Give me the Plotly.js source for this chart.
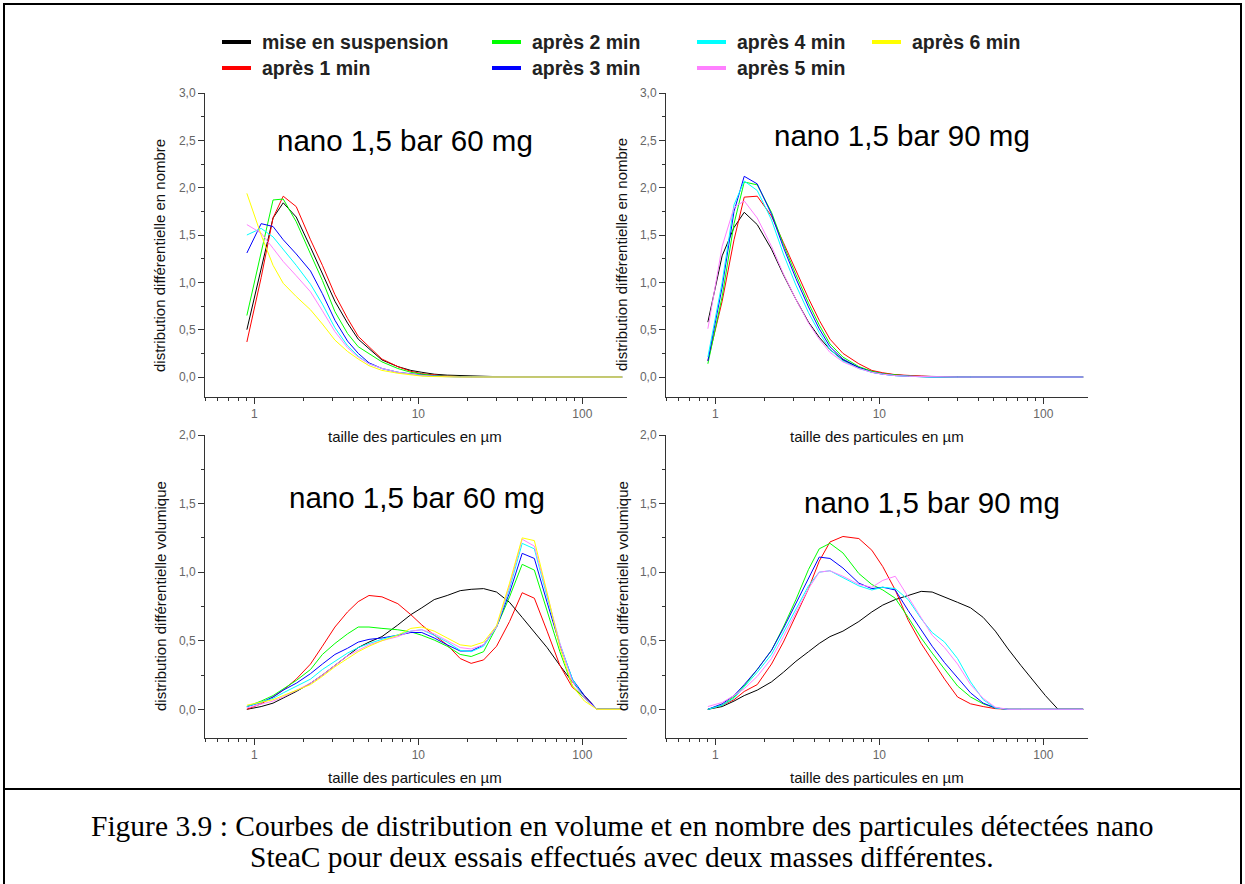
<!DOCTYPE html>
<html><head><meta charset="utf-8">
<script src="https://cdn.plot.ly/plotly-3.0.1.min.js"></script>
<style>html,body{margin:0;padding:0;background:#fff;} #chart{width:1245px;height:884px;}</style>
</head><body><div id="chart"></div>
<script>
// Particle size classes (µm)
const sizes = [0.9,1.1,1.3,1.5,1.8,2.2,2.6,3.1,3.7,4.3,5.0,6.0,7.5,9.0,10.5,12.5,15,18,21,25,30,36,43,51,61,73,87,103,123,147,175];

const seriesNames = ['mise en suspension','après 1 min','après 2 min','après 3 min','après 4 min','après 5 min','après 6 min'];
const seriesColors = ['#000000','#ff0000','#00ff00','#0000ff','#00ffff','#ff80ff','#ffff00'];

// Number distribution, 60 mg
const num60_susp = [0.50,1.15,1.68,1.84,1.69,1.37,1.10,0.80,0.57,0.40,0.30,0.18,0.11,0.07,0.05,0.03,0.02,0.015,0.01,0.005,0,0,0,0,0,0,0,0,0,0,0];
const num60_1 = [0.37,1.05,1.68,1.91,1.80,1.45,1.18,0.87,0.62,0.43,0.32,0.19,0.11,0.06,0.035,0.02,0.01,0.005,0,0,0,0,0,0,0,0,0,0,0,0,0];
const num60_2 = [0.65,1.30,1.87,1.88,1.64,1.30,1.02,0.69,0.46,0.32,0.25,0.16,0.09,0.05,0.03,0.015,0.008,0.004,0,0,0,0,0,0,0,0,0,0,0,0,0];
const num60_3 = [1.31,1.62,1.59,1.45,1.30,1.12,0.88,0.60,0.38,0.25,0.15,0.09,0.05,0.03,0.02,0.01,0.005,0,0,0,0,0,0,0,0,0,0,0,0,0,0];
const num60_4 = [1.50,1.57,1.48,1.35,1.18,0.98,0.77,0.52,0.33,0.22,0.14,0.09,0.05,0.03,0.015,0.008,0,0,0,0,0,0,0,0,0,0,0,0,0,0,0];
const num60_5 = [1.61,1.52,1.36,1.22,1.07,0.90,0.70,0.48,0.31,0.21,0.14,0.09,0.05,0.03,0.015,0.008,0,0,0,0,0,0,0,0,0,0,0,0,0,0,0];
const num60_6 = [1.94,1.50,1.18,0.99,0.85,0.71,0.56,0.39,0.27,0.19,0.12,0.07,0.04,0.02,0.01,0.005,0,0,0,0,0,0,0,0,0,0,0,0,0,0,0];

// Number distribution, 90 mg
const num90_susp = [0.58,1.28,1.58,1.74,1.61,1.35,1.08,0.82,0.58,0.42,0.29,0.18,0.10,0.06,0.035,0.02,0.012,0.008,0.005,0.003,0,0,0,0,0,0,0,0,0,0,0];
const num90_1 = [0.17,0.80,1.45,1.90,1.91,1.70,1.42,1.12,0.83,0.60,0.40,0.25,0.14,0.07,0.045,0.025,0.015,0.01,0.005,0,0,0,0,0,0,0,0,0,0,0,0];
const num90_2 = [0.14,0.85,1.62,2.06,2.03,1.74,1.40,1.08,0.78,0.55,0.35,0.21,0.11,0.06,0.035,0.02,0.01,0.005,0,0,0,0,0,0,0,0,0,0,0,0,0];
const num90_3 = [0.17,0.95,1.75,2.12,2.04,1.72,1.37,1.04,0.74,0.51,0.32,0.19,0.10,0.05,0.03,0.015,0.008,0,0,0,0,0,0,0,0,0,0,0,0,0,0];
const num90_4 = [0.21,1.00,1.82,2.07,1.97,1.66,1.30,0.97,0.68,0.47,0.29,0.17,0.09,0.05,0.03,0.015,0.008,0,0,0,0,0,0,0,0,0,0,0,0,0,0];
const num90_5 = [0.51,1.38,1.79,1.86,1.68,1.38,1.09,0.82,0.57,0.40,0.26,0.16,0.09,0.05,0.03,0.015,0.008,0.004,0.002,0,0,0,0,0,0,0,0,0,0,0,0];

// Volume distribution, 60 mg
const vol60_susp = [0,0.02,0.045,0.08,0.13,0.19,0.25,0.32,0.39,0.45,0.49,0.53,0.615,0.69,0.74,0.80,0.83,0.865,0.875,0.88,0.855,0.78,0.67,0.56,0.45,0.32,0.20,0.10,0,0,0];
const vol60_1 = [0,0.04,0.09,0.14,0.22,0.33,0.46,0.60,0.71,0.785,0.83,0.82,0.77,0.69,0.615,0.54,0.47,0.37,0.335,0.36,0.46,0.64,0.85,0.81,0.57,0.32,0.16,0.09,0,0,0];
const vol60_2 = [0.02,0.06,0.10,0.15,0.21,0.29,0.40,0.48,0.55,0.60,0.60,0.59,0.58,0.565,0.54,0.505,0.46,0.40,0.385,0.42,0.60,0.82,1.057,1.015,0.72,0.42,0.17,0.08,0,0,0];
const vol60_3 = [0.02,0.05,0.09,0.14,0.19,0.26,0.33,0.40,0.445,0.49,0.51,0.52,0.54,0.56,0.56,0.52,0.47,0.425,0.425,0.47,0.60,0.85,1.137,1.10,0.78,0.47,0.22,0.10,0,0,0];
const vol60_4 = [0.02,0.05,0.08,0.12,0.17,0.22,0.29,0.35,0.41,0.45,0.48,0.51,0.54,0.57,0.58,0.54,0.49,0.43,0.42,0.46,0.60,0.88,1.21,1.17,0.82,0.48,0.22,0.08,0,0,0];
const vol60_5 = [0.01,0.04,0.06,0.09,0.14,0.19,0.25,0.32,0.39,0.43,0.47,0.50,0.53,0.57,0.58,0.55,0.50,0.45,0.44,0.47,0.60,0.90,1.24,1.19,0.84,0.48,0.20,0.08,0,0,0];
const vol60_6 = [0.03,0.05,0.07,0.10,0.14,0.18,0.24,0.31,0.37,0.42,0.46,0.50,0.54,0.59,0.60,0.57,0.52,0.47,0.46,0.49,0.61,0.92,1.25,1.23,0.85,0.45,0.17,0.06,0,0,0];

// Volume distribution, 90 mg
const vol90_susp = [0,0.02,0.06,0.10,0.14,0.20,0.27,0.35,0.42,0.48,0.53,0.57,0.64,0.71,0.76,0.80,0.83,0.86,0.855,0.82,0.78,0.74,0.67,0.57,0.44,0.32,0.21,0.10,0,0,0];
const vol90_1 = [0,0.03,0.07,0.13,0.18,0.33,0.49,0.69,0.88,1.08,1.22,1.26,1.245,1.16,1.04,0.87,0.65,0.48,0.36,0.22,0.09,0.04,0.02,0.005,0,0,0,0,0,0,0];
const vol90_2 = [0,0.03,0.09,0.17,0.29,0.43,0.60,0.80,1.02,1.17,1.21,1.14,0.99,0.91,0.87,0.81,0.67,0.52,0.41,0.29,0.17,0.09,0.04,0.01,0,0,0,0,0,0,0];
const vol90_3 = [0,0.04,0.10,0.18,0.29,0.43,0.59,0.77,0.96,1.11,1.10,1.03,0.92,0.88,0.89,0.87,0.72,0.58,0.46,0.34,0.23,0.12,0.045,0.01,0,0,0,0,0,0,0];
const vol90_4 = [0,0.03,0.08,0.16,0.27,0.40,0.56,0.73,0.90,1.00,1.01,0.96,0.90,0.87,0.89,0.88,0.80,0.66,0.56,0.49,0.37,0.20,0.07,0.01,0,0,0,0,0,0,0];
const vol90_5 = [0.02,0.05,0.10,0.15,0.24,0.37,0.53,0.71,0.88,1.00,1.01,0.97,0.91,0.89,0.94,0.97,0.82,0.67,0.54,0.45,0.33,0.18,0.08,0.015,0,0,0,0,0,0,0];

const panelTitles = ['nano 1,5 bar 60 mg','nano 1,5 bar 90 mg','nano 1,5 bar 60 mg','nano 1,5 bar 90 mg'];
const xTitle = 'taille des particules en µm';
const yTitleNum = 'distribution différentielle en nombre';
const yTitleVol = 'distribution différentielle volumique';
const caption1 = 'Figure 3.9 : Courbes de distribution en volume et en nombre des particules détectées nano';
const caption2 = 'SteaC pour deux essais effectués avec deux masses différentes.';

const W = 1245, H = 884;
const px = v => v / W;
const py = v => 1 - v / H;

const panels = [
  {xa:'x',  ya:'y',  series:[num60_susp,num60_1,num60_2,num60_3,num60_4,num60_5,num60_6]},
  {xa:'x2', ya:'y2', series:[num90_susp,num90_1,num90_2,num90_3,num90_4,num90_5]},
  {xa:'x3', ya:'y3', series:[vol60_susp,vol60_1,vol60_2,vol60_3,vol60_4,vol60_5,vol60_6]},
  {xa:'x4', ya:'y4', series:[vol90_susp,vol90_1,vol90_2,vol90_3,vol90_4,vol90_5]}
];

const traces = [];
panels.forEach(p => {
  p.series.forEach((ys, i) => {
    traces.push({
      x: sizes, y: ys, xaxis: p.xa, yaxis: p.ya, type: 'scatter', mode: 'lines',
      name: seriesNames[i], line: {color: seriesColors[i], width: 1}, showlegend: false, hoverinfo: 'skip'
    });
  });
});

const FONT = 'Liberation Sans, Arial, sans-serif';
const SERIF = 'Liberation Serif, Times New Roman, serif';
const axisLine = '#333';
function xAxis(l, r, anchor) {
  return {
    type: 'log', domain: [px(l), px(r)], anchor: anchor, range: [Math.log10(0.5), 2.2726],
    showline: true, linecolor: axisLine, linewidth: 1, ticks: 'outside', ticklen: 6, tickwidth: 1, tickcolor: axisLine,
    dtick: 1, showgrid: false, zeroline: false,
    tickfont: {family: FONT, size: 12, color: '#666'},
    minor: {ticks: 'outside', ticklen: 3, tickwidth: 1, tickcolor: axisLine, showgrid: false}
  };
}
function yAxis(top, bottom, anchor, range) {
  return {
    domain: [py(bottom), py(top)], anchor: anchor, range: range,
    showline: true, linecolor: axisLine, linewidth: 1, ticks: 'outside', ticklen: 6, tickwidth: 1, tickcolor: axisLine,
    dtick: 0.5, tick0: 0, tickformat: '.1f', showgrid: false, zeroline: false,
    tickfont: {family: FONT, size: 12, color: '#666'},
    minor: {ticks: 'outside', ticklen: 3, tickwidth: 1, tickcolor: axisLine, dtick: 0.25, showgrid: false}
  };
}

const annotations = [];
function ann(text, x, y, size, extra) {
  annotations.push(Object.assign({
    text: text, x: px(x), y: py(y), xref: 'paper', yref: 'paper', showarrow: false,
    xanchor: 'center', yanchor: 'middle', font: {family: FONT, size: size, color: '#000'}
  }, extra || {}));
}
// panel titles
ann(panelTitles[0], 405, 140, 29.5);
ann(panelTitles[1], 902, 135, 29.5);
ann(panelTitles[2], 417, 497, 29.5);
ann(panelTitles[3], 932, 502, 29.5);
// axis titles
[[415, 436], [877, 436], [415, 777], [877, 777]].forEach(p => ann(xTitle, p[0], p[1], 15, {font:{family:FONT,size:15,color:'#111'}}));
[[160, 255, yTitleNum], [622, 255, yTitleNum], [160, 596, yTitleVol], [622, 596, yTitleVol]].forEach(p =>
  ann(p[2], p[0], p[1], 15, {textangle: -90, font:{family:FONT,size:15,color:'#111'}}));
// caption
ann(caption1, 622, 826, 29.5, {font:{family:SERIF, size:29.5, color:'#000'}});
ann(caption2, 622, 857, 29.5, {font:{family:SERIF, size:29.5, color:'#000'}});

// custom legend
const legendCols = [222, 492, 697, 872];
const legendRows = [42, 68];
const legendSlots = [[0,0],[0,1],[1,0],[1,1],[2,0],[2,1],[3,0]];
const shapes = [];
seriesNames.forEach((name, i) => {
  const c = legendCols[legendSlots[i][0]], r = legendRows[legendSlots[i][1]];
  shapes.push({type:'line', xref:'paper', yref:'paper', x0:px(c), x1:px(c+29), y0:py(r), y1:py(r),
    line:{color: seriesColors[i], width: 4}});
  annotations.push({text: name, x: px(c+38), y: py(r), xref:'paper', yref:'paper', showarrow:false,
    xanchor:'left', yanchor:'middle', font:{family:FONT, size:19.5, color:'#222', weight:'bold'}});
});
// frame
shapes.push({type:'rect', xref:'paper', yref:'paper', x0:px(4), x1:px(1241), y0:py(890), y1:py(4), line:{color:'#000', width:2}});
shapes.push({type:'line', xref:'paper', yref:'paper', x0:px(4), x1:px(1241), y0:py(789), y1:py(789), line:{color:'#000', width:2}});

const layout = {
  width: W, height: H, margin: {l:0, r:0, t:0, b:0},
  paper_bgcolor: '#fff', plot_bgcolor: 'rgba(0,0,0,0)',
  separators: ', ', showlegend: false,
  font: {family: FONT},
  xaxis: xAxis(205, 627, 'y'),
  yaxis: yAxis(93, 397, 'x', [-0.211, 3.0]),
  xaxis2: xAxis(666, 1088, 'y2'),
  yaxis2: yAxis(93, 397, 'x2', [-0.211, 3.0]),
  xaxis3: xAxis(205, 627, 'y3'),
  yaxis3: yAxis(435, 737.7, 'x3', [-0.207, 2.0]),
  xaxis4: xAxis(666, 1088, 'y4'),
  yaxis4: yAxis(435, 737.7, 'x4', [-0.207, 2.0]),
  annotations: annotations, shapes: shapes
};

Plotly.newPlot('chart', traces, layout, {staticPlot: true, displayModeBar: false});
</script>
</body></html>
